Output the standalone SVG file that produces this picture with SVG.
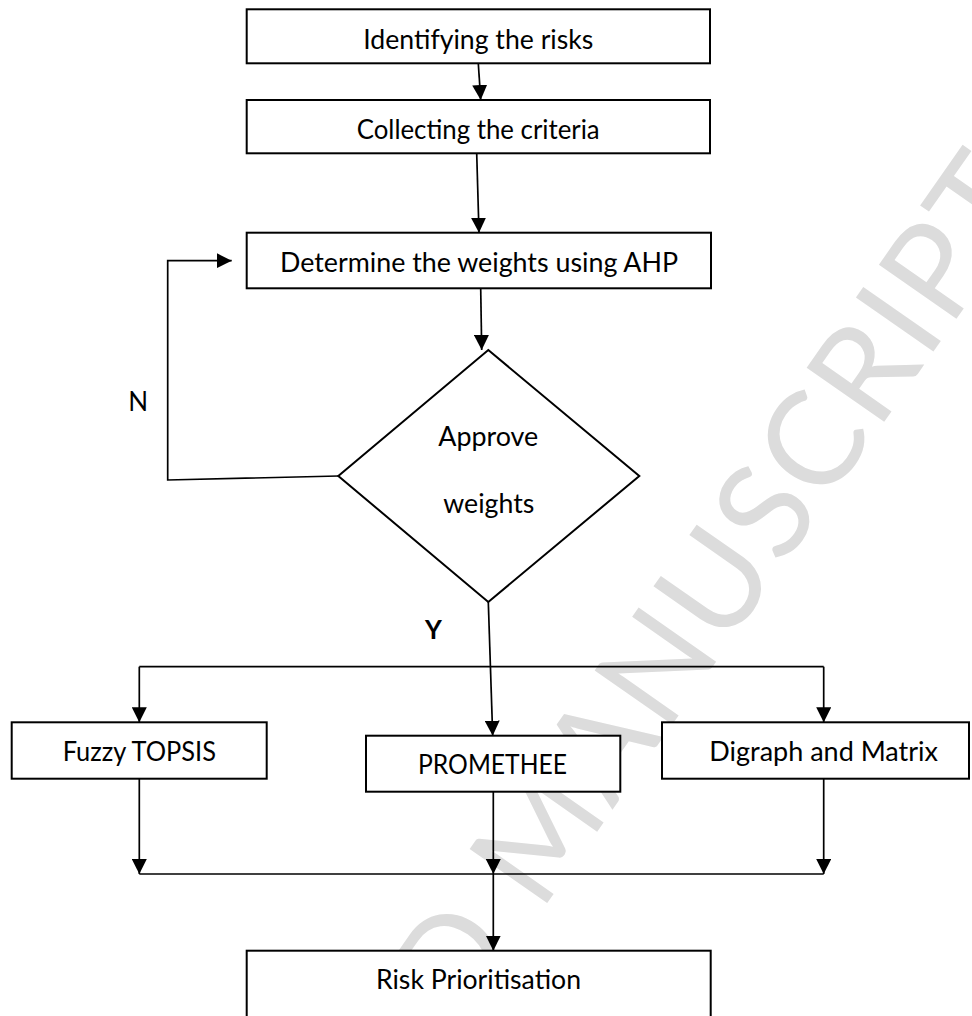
<svg xmlns="http://www.w3.org/2000/svg" width="972" height="1016" viewBox="0 0 972 1016">
<style>
.box{fill:#fff;stroke:#000;stroke-width:2}
.t{font-family:Lato,"Open Sans","Liberation Sans",sans-serif;font-size:26px;fill:#000}
.c{fill:none;stroke:#000;stroke-width:1.7}
.wm{font-family:Lato,"Open Sans","Liberation Sans",sans-serif;font-size:132px;fill:#dcdcdc;letter-spacing:3px}
</style>
<defs>
<marker id="ah" markerUnits="userSpaceOnUse" markerWidth="15" markerHeight="15" refX="15" refY="7.5" orient="auto">
<path d="M0,0 L15,7.5 L0,15 z" fill="#000"/>
</marker>
</defs>
<rect width="972" height="1016" fill="#fff"/>
<g id="watermark">
<text class="wm" transform="translate(1043,195) rotate(-55)" text-anchor="end">ACCEPTED MANUSCRIPT</text>
</g>
<g id="connectors">
<path class="c" d="M478.3,63.3 L480.7,100" marker-end="url(#ah)"/>
<path class="c" d="M476.7,153.3 L479,232.7" marker-end="url(#ah)"/>
<path class="c" d="M480.7,288.3 L481.7,350" marker-end="url(#ah)"/>
<path class="c" d="M338.3,476 L167.7,480 L167.7,260.7 L231.7,260.7" marker-end="url(#ah)"/>
<path class="c" d="M488.3,602 L492.7,735.7" marker-end="url(#ah)"/>
<path class="c" d="M139.3,666.7 H823.7"/>
<path class="c" d="M139.3,666.7 V722.3" marker-end="url(#ah)"/>
<path class="c" d="M823.7,666.7 V722.3" marker-end="url(#ah)"/>
<path class="c" d="M139.3,778.7 V874" marker-end="url(#ah)"/>
<path class="c" d="M493.3,791.7 V874" marker-end="url(#ah)"/>
<path class="c" d="M823.7,778.7 V874" marker-end="url(#ah)"/>
<path class="c" d="M139.3,874 H823.7"/>
<path class="c" d="M493.3,874 V950.7" marker-end="url(#ah)"/>
</g>
<g id="n-identify">
<rect class="box" x="246.7" y="9.3" width="463.3" height="54"/>
<text class="t" x="363.3" y="48.5" textLength="230" lengthAdjust="spacingAndGlyphs">Identifying the risks</text>
</g>
<g id="n-collect">
<rect class="box" x="246.7" y="100" width="463.3" height="53.3"/>
<text class="t" x="356.7" y="139" textLength="243" lengthAdjust="spacingAndGlyphs">Collecting the criteria</text>
</g>
<g id="n-determine">
<rect class="box" x="246.7" y="232.7" width="464.3" height="55.6"/>
<text class="t" x="280" y="272.3" textLength="398" lengthAdjust="spacingAndGlyphs">Determine the weights using AHP</text>
</g>
<g id="n-approve">
<polygon class="box" points="488.3,350 639.3,476 488.3,602 338.3,476"/>
<text class="t" x="438.3" y="446" textLength="100" lengthAdjust="spacingAndGlyphs">Approve</text>
<text class="t" x="443.3" y="513.3" textLength="91" lengthAdjust="spacingAndGlyphs">weights</text>
</g>
<g id="label-n">
<text class="t" x="128.3" y="410.7">N</text>
</g>
<g id="label-y">
<text class="t" x="425" y="639.3" font-weight="bold">Y</text>
</g>
<g id="n-fuzzy">
<rect class="box" x="11.7" y="722.3" width="255" height="56.4"/>
<text class="t" x="62.7" y="761" textLength="153.3" lengthAdjust="spacingAndGlyphs">Fuzzy TOPSIS</text>
</g>
<g id="n-promethee">
<rect class="box" x="366" y="735.7" width="254.3" height="56"/>
<text class="t" x="418" y="774" textLength="149" lengthAdjust="spacingAndGlyphs">PROMETHEE</text>
</g>
<g id="n-digraph">
<rect class="box" x="662" y="722.3" width="307" height="56.4"/>
<text class="t" x="709.3" y="761" textLength="228.7" lengthAdjust="spacingAndGlyphs">Digraph and Matrix</text>
</g>
<g id="n-risk">
<rect class="box" x="246.7" y="950.7" width="464" height="90"/>
<text class="t" x="376" y="989" textLength="205" lengthAdjust="spacingAndGlyphs">Risk Prioritisation</text>
</g>
</svg>
